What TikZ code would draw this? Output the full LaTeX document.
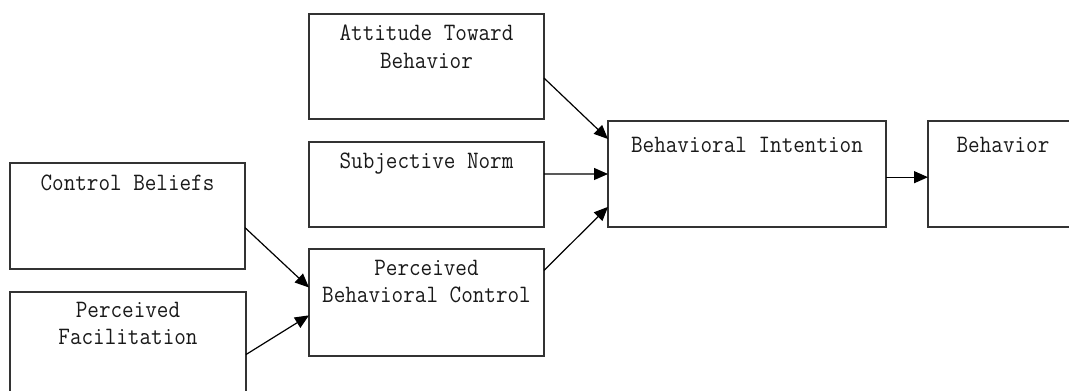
\documentclass[tikz,border=0pt]{standalone}
\usepackage{fontspec}
\newfontfamily\boxfont[FakeStretch=0.9]{Latin Modern Mono}
\usetikzlibrary{calc,arrows.meta}
\tikzset{
  box/.style={draw=black!80, line width=1.5pt, rectangle, anchor=north west, inner sep=0pt, outer sep=0pt, minimum width=#1},
  box/.default=235pt,
  lbl/.style={anchor=base, align=center, inner sep=0pt, font=\boxfont\fontsize{25}{27.5}\selectfont, text=black!90},
  arr/.style={line width=1.2pt, -{Triangle[length=14pt,width=12pt]}}
}
\begin{document}
\begin{tikzpicture}[x=1pt,y=-1pt]
\useasboundingbox (0,0) rectangle (1069,391);
\clip (0,0) rectangle (1069,391);
\node[box, minimum height=105pt] (atb) at (309,14) {};
\node[box, minimum height=85pt] (sn) at (309,142) {};
\node[box, minimum height=107pt] (pbc) at (309,249) {};
\node[box=235pt, minimum height=106pt] (cb) at (10,163) {};
\node[box=236pt, minimum height=106pt] (pf) at (10,292) {};
\node[box=278pt, minimum height=106pt] (bi) at (608,121) {};
\node[box=150pt, minimum height=106pt] (beh) at (928,121) {};
\node[lbl] (tatb) at ($(atb.north)+(0,54)$) {Attitude Toward\\Behavior};
\node[lbl] (tsn) at ($(sn.north)+(0,26)$) {Subjective Norm};
\node[lbl] (tpbc) at ($(pbc.north)+(0,53.5)$) {Perceived\\Behavioral Control};
\node[lbl] (tcb) at ($(cb.north)+(0,27)$) {Control Beliefs};
\node[lbl] (tpf) at ($(pf.north)+(0,52.5)$) {Perceived\\Facilitation};
\node[lbl] (tbi) at ($(bi.north)+(0,31)$) {Behavioral Intention};
\node[lbl] (tbeh) at ($(beh.north)+(0,31)$) {Behavior};
\draw[arr] ($(atb.north east)!0.61!(atb.south east)$) -- ($(bi.north west)!0.17!(bi.south west)$);
\draw[arr] ($(sn.north east)!0.376!(sn.south east)$) -- ($(bi.north west)!0.5!(bi.south west)$);
\draw[arr] ($(pbc.north east)!0.2!(pbc.south east)$) -- ($(bi.north west)!0.81!(bi.south west)$);
\draw[arr] ($(cb.north east)!0.61!(cb.south east)$) -- ($(pbc.north west)!0.36!(pbc.south west)$);
\draw[arr] ($(pf.north east)!0.59!(pf.south east)$) -- ($(pbc.north west)!0.62!(pbc.south west)$);
\draw[arr] ($(bi.north east)!0.53!(bi.south east)$) -- ($(beh.north west)!0.53!(beh.south west)$);
\end{tikzpicture}
\end{document}
